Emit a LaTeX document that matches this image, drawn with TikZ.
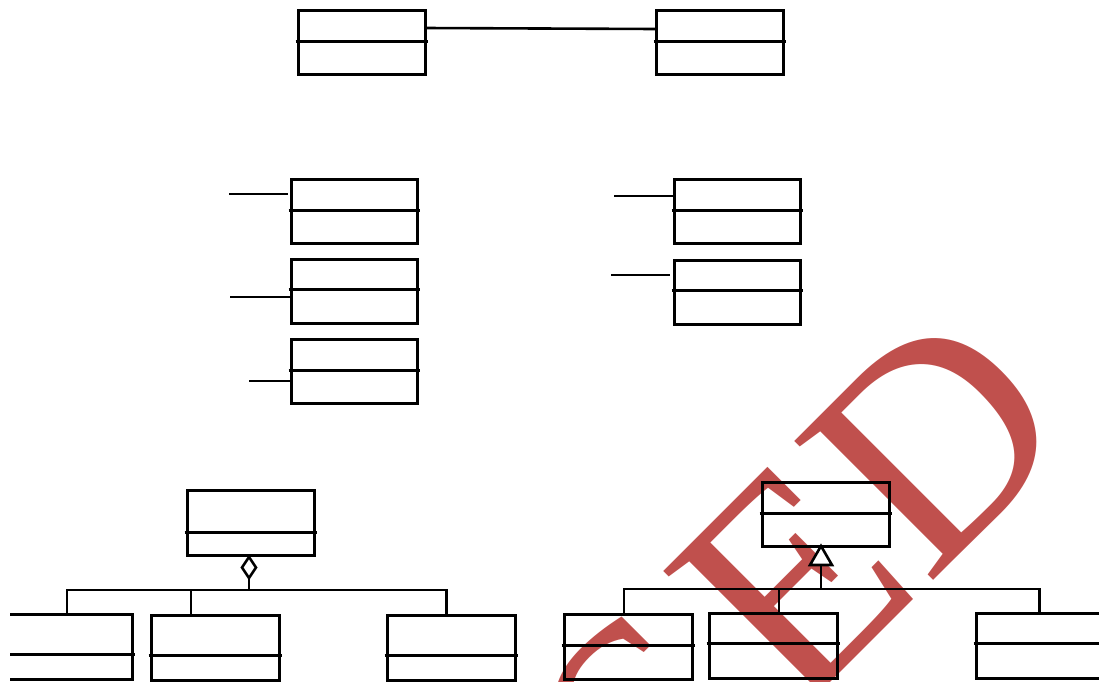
\documentclass[tikz,border=0pt]{standalone}
\usepackage{fontspec}
\newfontfamily\wmfont{Liberation Serif}
\usetikzlibrary{shapes.geometric,arrows.meta}
\definecolor{wmred}{HTML}{C0504D}
\tikzset{
  cls/.style={draw, line width=3pt, inner sep=0pt, outer sep=0pt},
  divl/.style={line width=3pt},
  conn/.style={line width=2.6pt},
  aggr/.style={draw, diamond, line width=2.6pt, inner sep=0pt, outer sep=0pt, minimum width=14pt, minimum height=21pt, fill=white},
  gentri/.style={draw, isosceles triangle, isosceles triangle stretches, shape border rotate=90, line width=2.6pt, inner sep=0pt, outer sep=0pt, minimum height=19pt, minimum width=22pt, fill=white},
  wm/.style={text=wmred, inner sep=0pt, outer sep=0pt, rotate=45, anchor=base west, font=\wmfont\fontsize{300}{300}\selectfont}
}
\newcommand\umlclass[6]{%
  \node[cls, minimum width={(#4-#2)*1pt}, minimum height={(#5-#3)*1pt}] (#1) at ({(#2+#4)/2},{(#3+#5)/2}) {};
  \draw[divl] (#2-2.5,#6) -- (#4+2.5,#6);
}
\begin{document}
\begin{tikzpicture}[x=1pt,y=-1pt]
\useasboundingbox (0,0) rectangle (1099,681);
\clip (10,0) rectangle (1099,681);
% watermark
\node[wm] (wmS) at (660,850) {S};
\node[wm] (wmE) at (796,716) {E};
\node[wm] (wmD) at (927,586) {D};
% top
\umlclass{A}{298}{10}{425}{74}{41}
\umlclass{B}{656}{10}{783}{74}{41}
\draw[conn] ([yshift=14pt]A.east) -- ([yshift=13pt]B.west);
% middle left
\umlclass{M1}{291}{179}{417}{243}{210}
\umlclass{M2}{291}{259}{417}{323}{289}
\umlclass{M3}{291}{339}{417}{403}{370}
\coordinate (m1l) at (229,194);
\coordinate (m2l) at (230,297);
\coordinate (m3l) at (249,381);
\draw[conn] (m1l) -- ([xshift=-3pt]M1.west |- m1l);
\draw[conn] (m2l) -- (M2.west |- m2l);
\draw[conn] (m3l) -- (M3.west |- m3l);
% middle right
\umlclass{R1}{674}{179}{800}{243}{210}
\umlclass{R2}{674}{260}{800}{324}{290}
\coordinate (r1l) at (614,196);
\coordinate (r2l) at (611,275);
\draw[conn] (r1l) -- (R1.west |- r1l);
\draw[conn] (r2l) -- ([xshift=-4pt]R2.west |- r2l);
% bottom left: aggregation
\umlclass{P1}{187}{490}{314}{555}{532}
\umlclass{C1}{5}{614}{132}{679}{654}
\umlclass{C2}{151}{615}{279}{680}{655}
\umlclass{C3}{387}{615}{515}{680}{655}
\node[aggr, anchor=north] (dia) at ([yshift=-2pt]P1.south -| 249,0) {};
\coordinate (j1) at (249,590);
\draw[conn] (dia.south) -- (j1);
\draw[conn] ([xshift=-1.5pt]C1.north) |- (j1) -| ([xshift=-4.5pt]C3.north);
\draw[conn] ([xshift=-24pt]C2.north) -- ++(0,-25);
% bottom right: generalization
\umlclass{P2}{762}{482}{889}{546}{513}
\umlclass{D1}{564}{614}{692}{679}{645}
\umlclass{D2}{709}{613}{837}{678}{643}
\umlclass{D3}{976}{613}{1103}{678}{643}
\coordinate (j2) at (821,589);
\node[gentri, anchor=apex] (tri) at (P2.south -| j2) {};
\draw[conn] (j2) -- (tri.lower side);
\draw[conn] ([xshift=-4pt]D1.north) |- (j2) -| (D3.north);
\draw[conn] ([xshift=6pt]D2.north) -- ++(0,-24);
\end{tikzpicture}
\end{document}
